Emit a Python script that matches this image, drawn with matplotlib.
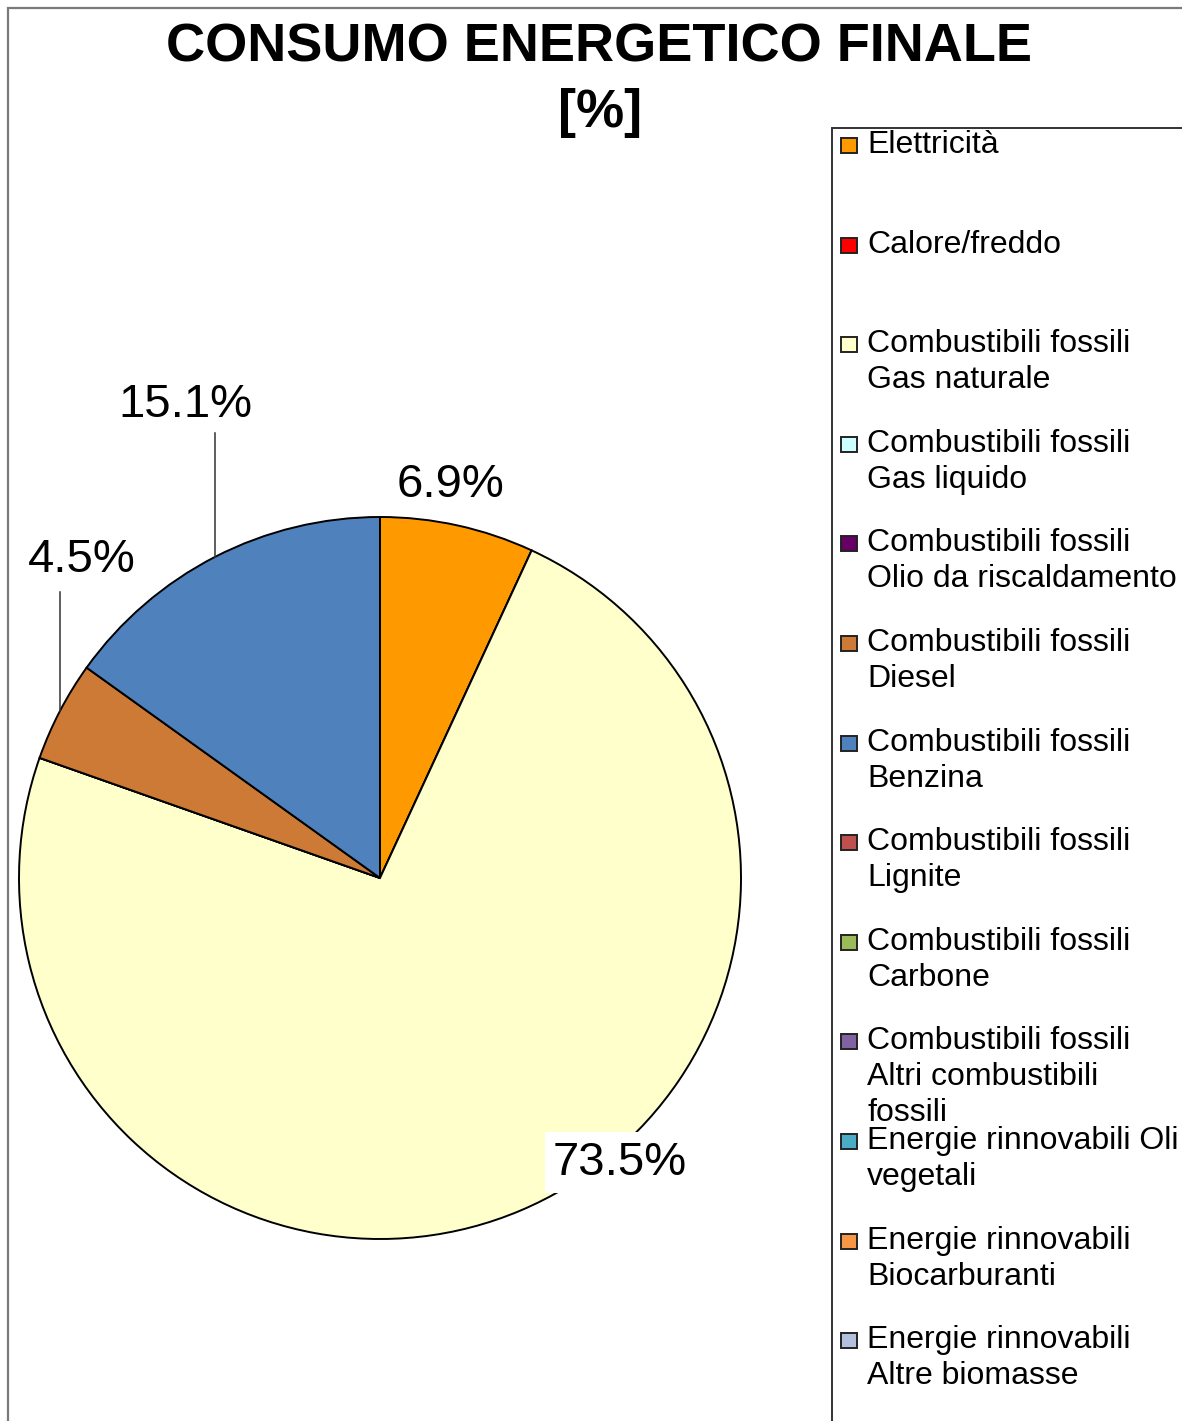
import matplotlib
matplotlib.use("Agg")
import matplotlib.pyplot as plt
from matplotlib.patches import Rectangle
import numpy as np

plt.rcParams['font.family'] = ['Liberation Sans', 'DejaVu Sans']

# --- data -------------------------------------------------------------
categories = [
    "Elettricità",
    "Calore/freddo",
    "Combustibili fossili\nGas naturale",
    "Combustibili fossili\nGas liquido",
    "Combustibili fossili\nOlio da riscaldamento",
    "Combustibili fossili\nDiesel",
    "Combustibili fossili\nBenzina",
    "Combustibili fossili\nLignite",
    "Combustibili fossili\nCarbone",
    "Combustibili fossili\nAltri combustibili\nfossili",
    "Energie rinnovabili Oli\nvegetali",
    "Energie rinnovabili\nBiocarburanti",
    "Energie rinnovabili\nAltre biomasse",
]
shares = [6.9, 0.0, 73.5, 0.0, 0.0, 4.5, 15.1, 0.0, 0.0, 0.0, 0.0, 0.0, 0.0]
colors = [
    "#FF9900", "#FF0000", "#FFFFCC", "#CCFFFF", "#660066", "#CC7A36",
    "#4F81BD", "#C0504D", "#9BBB59", "#8064A2", "#4BACC6", "#F79646",
    "#B3C0DE",
]

title_line1 = "CONSUMO ENERGETICO FINALE"
title_line2 = "[%]"

# label placement (pie-radius units) and optional leader-line tops
label_pos = {0: (0.194, 1.089), 2: (0.665, -0.789), 5: (-0.825, 0.881), 6: (-0.540, 1.310)}
leader_top = {5: 0.792, 6: 1.233}

# --- figure ----------------------------------------------------------
W, H = 1182, 1421
fig = plt.figure(figsize=(W / 100, H / 100), dpi=100)

def fx(px):
    return px / W

def fy(py):
    return 1 - py / H

# outer chart frame
fig.patches.append(Rectangle((fx(8), fy(1430)), fx(1200) - fx(8), fy(8) - fy(1430),
                             transform=fig.transFigure, fill=False,
                             edgecolor="#7a7a7a", linewidth=1.6, zorder=0))

# title
fig.text(fx(599), fy(48), title_line1, ha="center", va="center",
         fontsize=39, fontweight="bold", color="black")
fig.text(fx(600), fy(113), title_line2, ha="center", va="center",
         fontsize=39, fontweight="bold", color="black")

# pie
cx, cy, r = 380, 878, 361
ax = fig.add_axes([fx(cx - r), fy(cy + r), 2 * r / W, 2 * r / H])
wedges, _ = ax.pie(shares, colors=colors, startangle=90, counterclock=False,
                   radius=1.0,
                   wedgeprops=dict(edgecolor="black", linewidth=1.4))
ax.set_xlim(-1, 1)
ax.set_ylim(-1, 1)
ax.set_aspect("equal")
ax.axis("off")

for i, (lx, ly) in label_pos.items():
    w = wedges[i]
    mid = np.deg2rad((w.theta1 + w.theta2) / 2)
    bbox = None
    if i == 2:
        bbox = dict(facecolor="white", edgecolor="none", pad=6)
    ax.text(lx, ly, f"{shares[i]:.1f}%", ha="center", va="center",
            fontsize=34, color="black", bbox=bbox, clip_on=False, zorder=5)
    if i in leader_top:
        x0, y0 = np.cos(mid), np.sin(mid)
        ax.plot([x0, x0], [y0, leader_top[i]], color="#333333",
                linewidth=1.1, clip_on=False, zorder=4)

# legend
leg_rect = Rectangle((fx(832), fy(1440)), fx(1200) - fx(832), fy(128) - fy(1440),
                     transform=fig.transFigure, facecolor="white",
                     edgecolor="#333333", linewidth=1.4, zorder=1)
fig.patches.append(leg_rect)

step = 99.6
line_gap = 36
for i, (lab, col) in enumerate(zip(categories, colors)):
    yc = 145 + step * i
    fig.patches.append(Rectangle((fx(841), fy(yc + 8)), fx(857) - fx(841),
                                 fy(yc - 7) - fy(yc + 8),
                                 transform=fig.transFigure, facecolor=col,
                                 edgecolor="#222222", linewidth=1.4, zorder=2))
    for k, line in enumerate(lab.split("\n")):
        t = fig.text(fx(867), fy(yc + line_gap * k), line, ha="left",
                     va="center", fontsize=23, color="black", zorder=3)
        t.set_clip_path(leg_rect)

fig.savefig("out.png", dpi=100, facecolor="white")
